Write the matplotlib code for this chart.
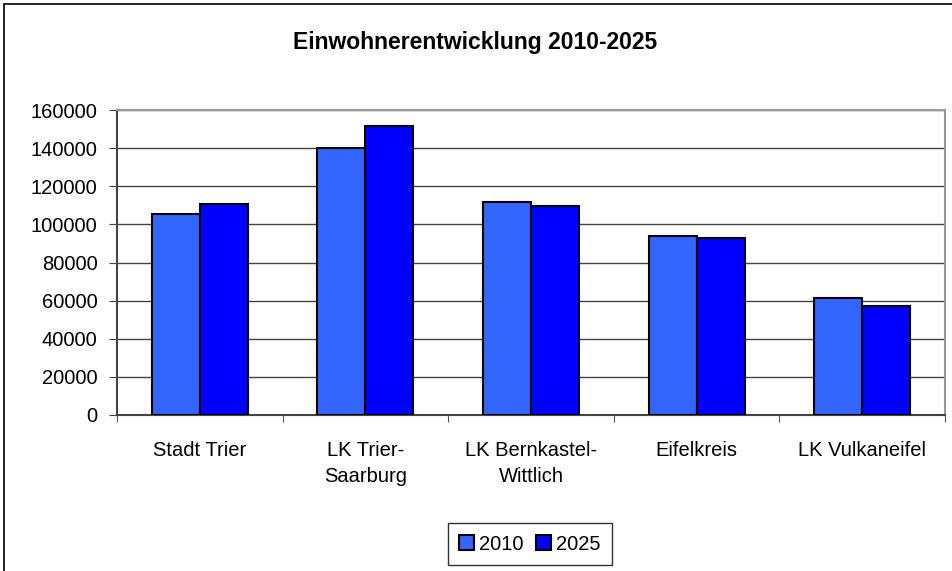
import numpy as np
import matplotlib.pyplot as plt
from matplotlib.patches import Rectangle

plt.rcParams['font.family'] = ['Liberation Sans', 'DejaVu Sans']

regions = ['Stadt Trier', 'LK Trier-\nSaarburg', 'LK Bernkastel-\nWittlich', 'Eifelkreis', 'LK Vulkaneifel']
ew_2010 = [105500, 140000, 111700, 94000, 61500]
ew_2025 = [110700, 151500, 109700, 93000, 57300]

x = np.arange(len(regions))
width = 0.29

fig = plt.figure(figsize=(9.53, 5.71), dpi=100)
ax = fig.add_axes([117/953, 1 - 415/571, 828/953, 305/571])

ax.bar(x - width/2, ew_2010, width, color='#3366FF', edgecolor='black', linewidth=1.5, label='2010', zorder=3)
ax.bar(x + width/2, ew_2025, width, color='#0000FF', edgecolor='black', linewidth=1.5, label='2025', zorder=3)

ax.set_xlim(-0.5, len(regions) - 0.5)
ax.set_ylim(0, 160000)
ax.set_yticks(np.arange(0, 160001, 20000))
ax.yaxis.grid(True, color='#444444', linewidth=1, zorder=0)
ax.set_xticks(np.arange(len(regions) + 1) - 0.5, minor=False)
ax.set_xticklabels([])
ax.set_xticks(x, minor=True)
ax.set_xticklabels(regions, minor=True, fontsize=14.5, linespacing=1.45)
ax.tick_params(axis='x', which='minor', length=0, pad=19)
ax.tick_params(axis='x', which='major', length=5, direction='out', color='#555555')
ax.tick_params(axis='y', labelsize=14.5, length=6, pad=8, color='#444444')

for side in ['left', 'bottom']:
    ax.spines[side].set_color('#444444')
    ax.spines[side].set_linewidth(1.5)
ax.spines['top'].set_color('#999999')
ax.spines['right'].set_color('#999999')
ax.spines['top'].set_linewidth(1.5)
ax.spines['right'].set_linewidth(1.5)

fig.text(475/953, 1 - 43/571, 'Einwohnerentwicklung 2010-2025', ha='center', va='center',
         fontsize=16.5, fontweight='bold')

leg = fig.legend(loc='center', bbox_to_anchor=(530/953, 1 - 544/571), ncol=2, frameon=True,
                 fancybox=False, edgecolor='black', fontsize=14.5, handlelength=0.75,
                 handleheight=0.75, handletextpad=0.25, columnspacing=0.6, borderpad=0.55)
leg.get_frame().set_linewidth(1)

fig.patches.append(Rectangle((4/953, -0.05), 1.1, 1 - 4/571 + 0.05, transform=fig.transFigure,
                             fill=False, edgecolor='black', linewidth=1.2))

fig.savefig('out.png', dpi=100)
